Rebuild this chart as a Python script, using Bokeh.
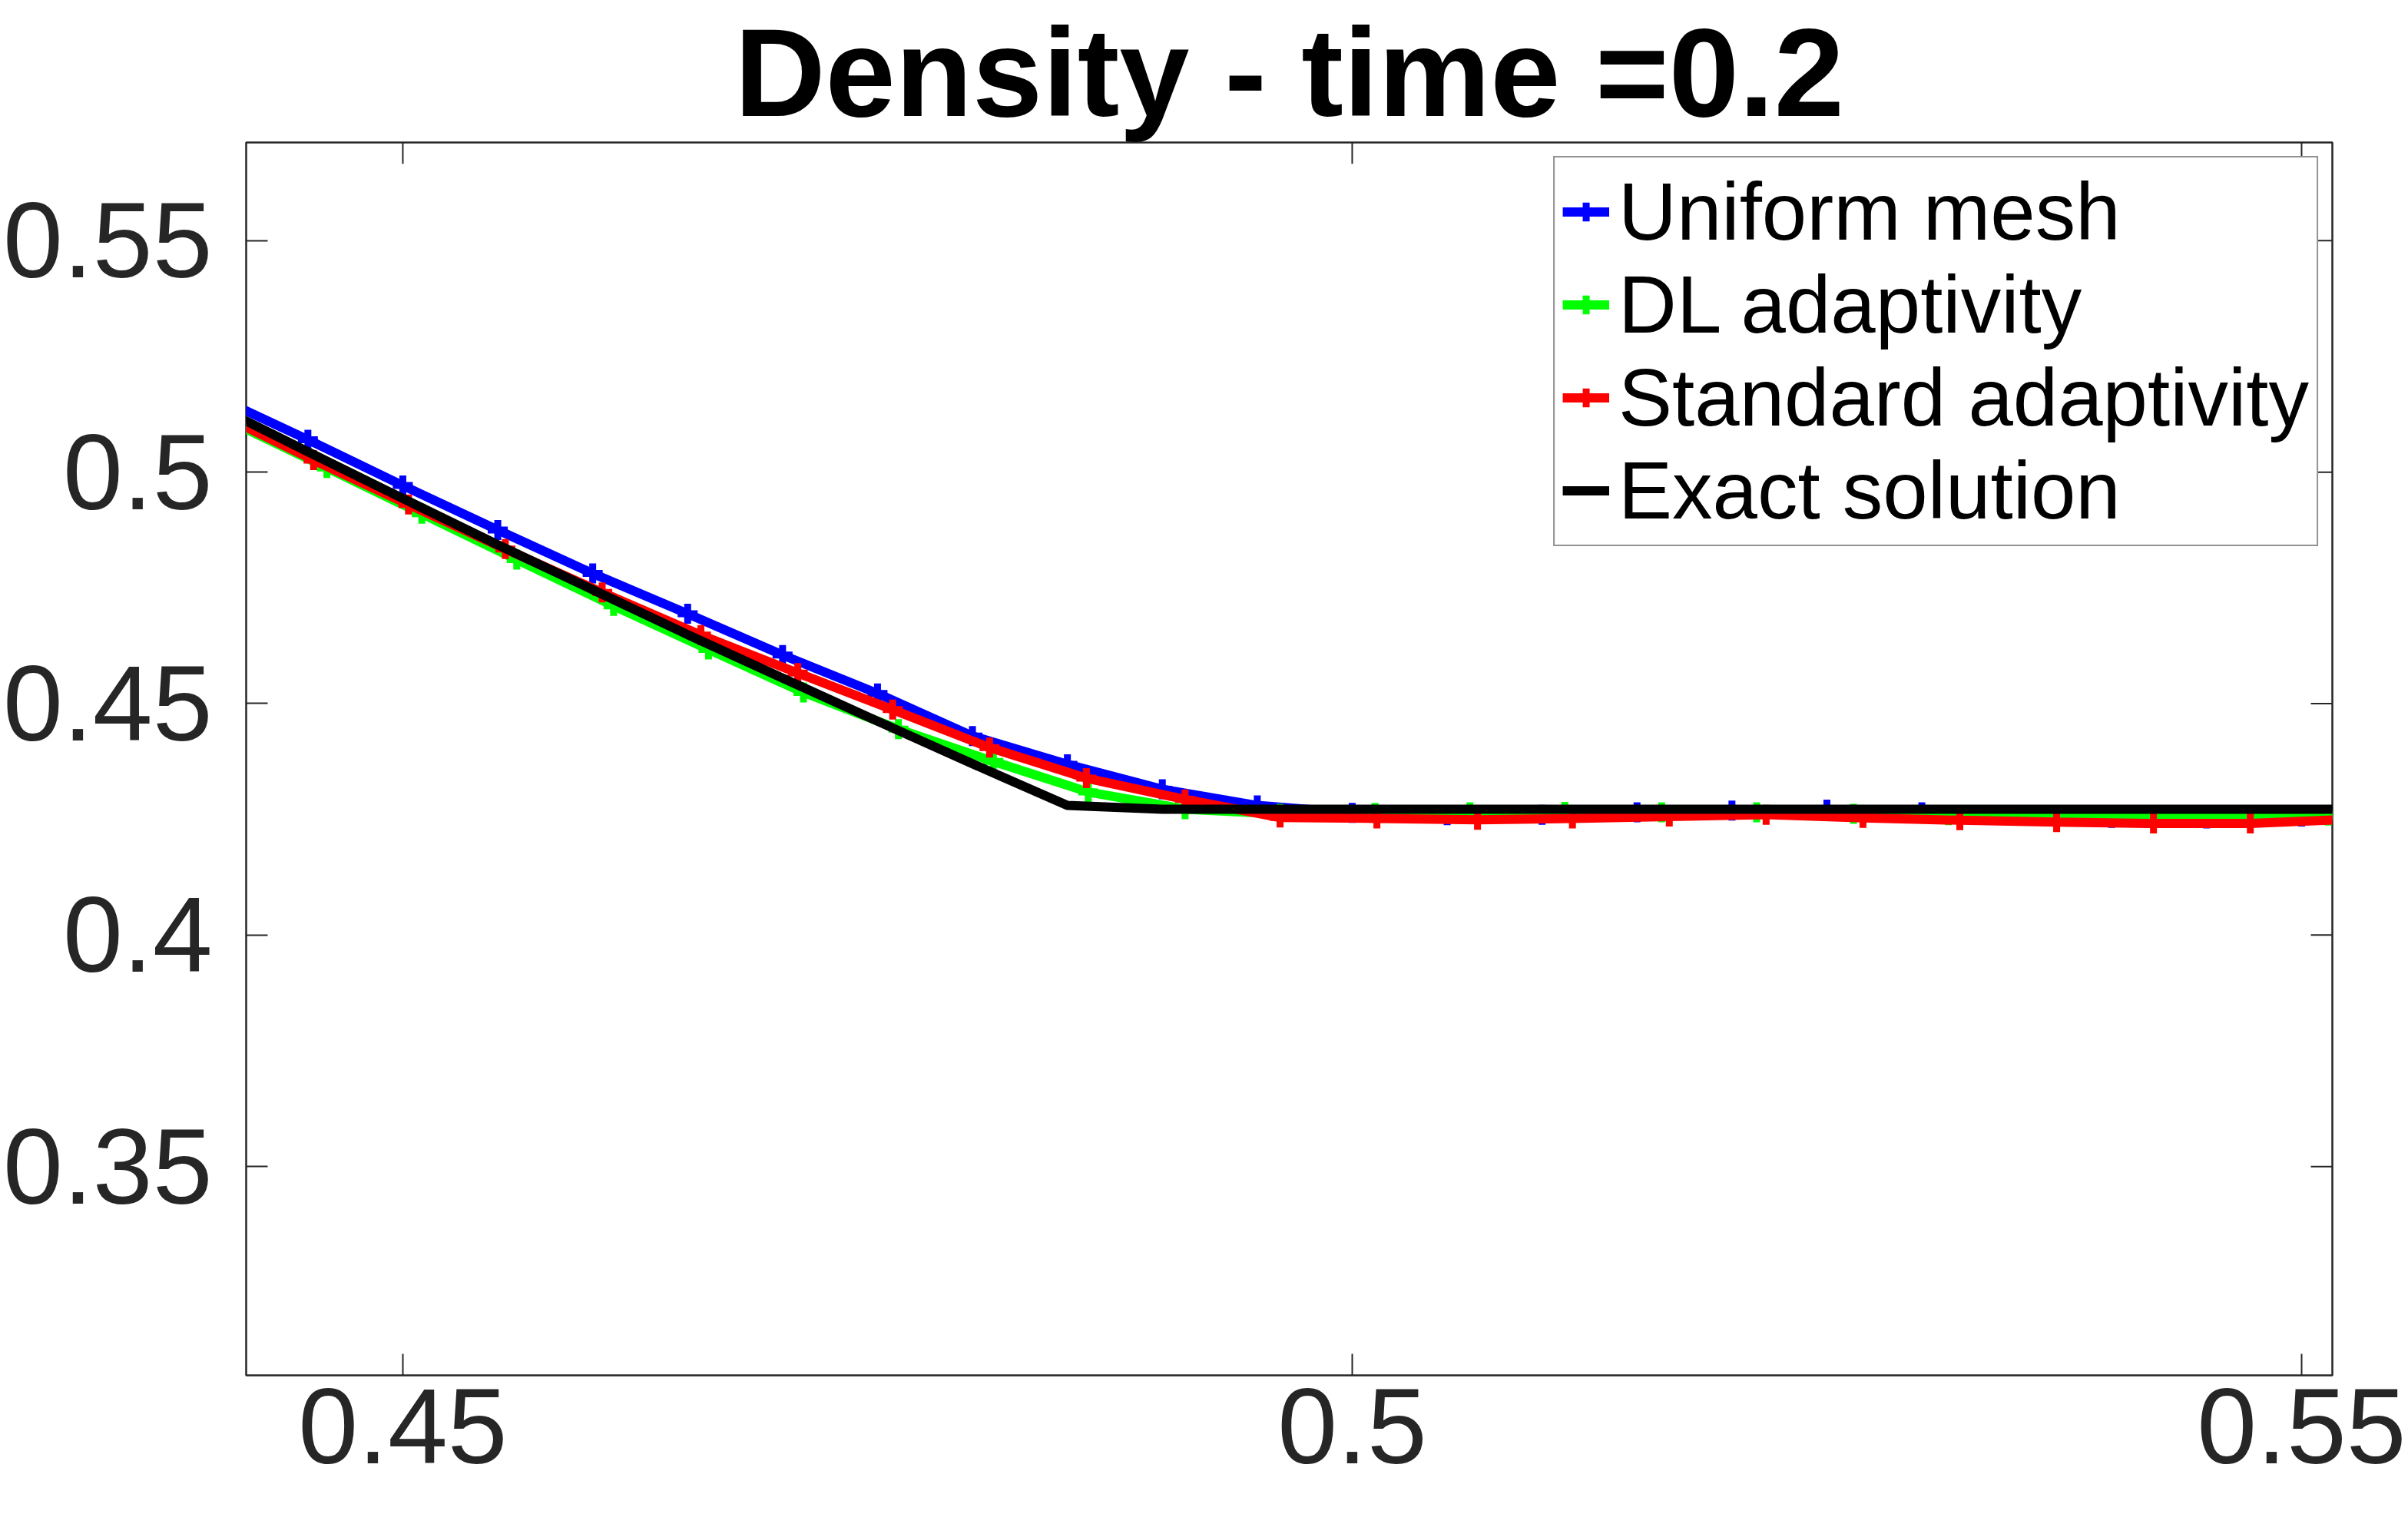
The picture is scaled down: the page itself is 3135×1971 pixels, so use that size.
from bokeh.plotting import figure
from bokeh.models import Range1d, FixedTicker, Legend, LegendItem
from bokeh.embed import file_html
from bokeh.resources import INLINE

title_text = "Density - time =0.2"
x_ticks = [0.45, 0.5, 0.55]
x_tick_labels = ["0.45", "0.5", "0.55"]
y_ticks = [0.35, 0.4, 0.45, 0.5, 0.55]
y_tick_labels = ["0.35", "0.4", "0.45", "0.5", "0.55"]

series_names = ["Uniform mesh", "DL adaptivity", "Standard adaptivity", "Exact solution"]

uniform_x = [0.440, 0.445, 0.450, 0.455, 0.460, 0.465, 0.470, 0.475, 0.480, 0.485,
             0.490, 0.495, 0.500, 0.505, 0.510, 0.515, 0.520, 0.525, 0.530, 0.535,
             0.540, 0.545, 0.550, 0.555]
uniform_rho = [0.5166, 0.5070, 0.4971, 0.4875, 0.4781, 0.4694, 0.4605, 0.4522, 0.4430, 0.4369,
               0.4315, 0.4280, 0.4264, 0.4259, 0.4260, 0.4265, 0.4269, 0.4271, 0.4265, 0.4259,
               0.4253, 0.4252, 0.4256, 0.4260]

dl_x = [0.4410, 0.4460, 0.4510, 0.4560, 0.4611, 0.4661, 0.4711, 0.4761, 0.4811, 0.4861,
        0.4912, 0.4962, 0.5012, 0.5062, 0.5112, 0.5163, 0.5213, 0.5264, 0.5314, 0.5364,
        0.5414, 0.5464, 0.5514, 0.5564]
dl_rho = [0.5108, 0.5009, 0.4910, 0.4811, 0.4711, 0.4617, 0.4524, 0.4445, 0.4375, 0.4309,
          0.4272, 0.4262, 0.4264, 0.4265, 0.4266, 0.4265, 0.4265, 0.4262, 0.4259, 0.4257,
          0.4255, 0.4255, 0.4258, 0.4262]

std_x = [0.4402, 0.4453, 0.4503, 0.4554, 0.4605, 0.4657, 0.4708, 0.4758, 0.4809, 0.4860,
         0.4912, 0.4962, 0.5013, 0.5066, 0.5116, 0.5167, 0.5218, 0.5269, 0.5320, 0.5371,
         0.5422, 0.5473, 0.5524, 0.5575]
std_rho = [0.5128, 0.5026, 0.4930, 0.4834, 0.4740, 0.4648, 0.4566, 0.4487, 0.4405, 0.4339,
           0.4293, 0.4254, 0.4252, 0.4249, 0.4252, 0.4256, 0.4260, 0.4253, 0.4248, 0.4244,
           0.4241, 0.4241, 0.4250, 0.4256]

exact_x = [0.440, 0.445, 0.450, 0.455, 0.460, 0.465, 0.470, 0.475, 0.480, 0.485,
           0.490, 0.495, 0.500, 0.505, 0.510, 0.515, 0.520, 0.525, 0.530, 0.535,
           0.540, 0.545, 0.550, 0.555]
exact_rho = [0.5146, 0.5044, 0.4943, 0.4843, 0.4746, 0.4649, 0.4555, 0.4462, 0.4370, 0.4280,
             0.4272, 0.4272, 0.4272, 0.4272, 0.4272, 0.4272, 0.4272, 0.4272, 0.4272, 0.4272,
             0.4272, 0.4272, 0.4272, 0.4272]

x_limits = (0.44175, 0.55162)
y_limits = (0.3049, 0.5712)

FONT = "Liberation Sans"
AX = "#262626"
FRAME_W, FRAME_H = 2716, 1614
TICK_PX = 28

p = figure(width=3135, height=1971, output_backend="svg", toolbar_location=None,
           x_range=Range1d(*x_limits), y_range=Range1d(*y_limits),
           min_border_left=320, min_border_right=99, min_border_top=176, min_border_bottom=181)

p.background_fill_color = "white"
p.border_fill_color = "white"
p.outline_line_color = AX
p.outline_line_width = 2.5
p.xgrid.visible = False
p.ygrid.visible = False

p.title.text = title_text
p.title.text_font = FONT
p.title.text_font_size = "164px"
p.title.text_font_style = "bold"
p.title.text_color = "black"
p.title.align = "center"
p.title.standoff = 0
p.title.offset = 0

def style_axis(ax, ticks, labels, standoff):
    ax.ticker = FixedTicker(ticks=ticks)
    ax.major_label_overrides = dict(zip(ticks, labels))
    ax.axis_line_color = None
    ax.major_tick_in = TICK_PX
    ax.major_tick_out = 0
    ax.major_tick_line_color = AX
    ax.major_tick_line_width = 2
    ax.minor_tick_line_color = None
    ax.major_label_text_font = FONT
    ax.major_label_text_color = AX
    ax.major_label_standoff = standoff
    ax.major_label_text_font_size = "140px"

style_axis(p.xaxis[0], x_ticks, x_tick_labels, 18)
style_axis(p.yaxis[0], y_ticks, y_tick_labels, 44)

# mirrored ticks on the top and right edges of the box (as in the reference)
dy = TICK_PX / FRAME_H * (y_limits[1] - y_limits[0])
dx = TICK_PX / FRAME_W * (x_limits[1] - x_limits[0])
p.segment(x0=x_ticks, y0=[y_limits[1]] * len(x_ticks), x1=x_ticks,
          y1=[y_limits[1] - dy] * len(x_ticks), line_color=AX, line_width=2)
p.segment(x0=[x_limits[1]] * len(y_ticks), y0=y_ticks, x1=[x_limits[1] - dx] * len(y_ticks),
          y1=y_ticks, line_color=AX, line_width=2)

LW = 12
colors = ["#0000FF", "#00FF00", "#FF0000", "#000000"]
xs = [uniform_x, dl_x, std_x, exact_x]
ys = [uniform_rho, dl_rho, std_rho, exact_rho]
items = []
for i in range(4):
    rends = [p.line(xs[i], ys[i], line_color=colors[i], line_width=LW)]
    if i < 3:
        rends.append(p.scatter(xs[i], ys[i], marker="cross", size=26,
                               line_color=colors[i], line_width=9))
    items.append(LegendItem(label=series_names[i], renderers=rends))

legend = Legend(items=items, location="top_right")
legend.margin = 18
legend.padding = 10
legend.spacing = 0
legend.glyph_width = 61
legend.glyph_height = 121
legend.label_height = 121
legend.label_standoff = 12
legend.label_text_font = FONT
legend.label_text_font_size = "105px"
legend.label_text_color = "black"
legend.border_line_color = AX
legend.border_line_width = 2.5
legend.background_fill_color = "white"
legend.background_fill_alpha = 1.0
p.add_layout(legend)

open("out.html", "w").write(file_html(p, INLINE))
